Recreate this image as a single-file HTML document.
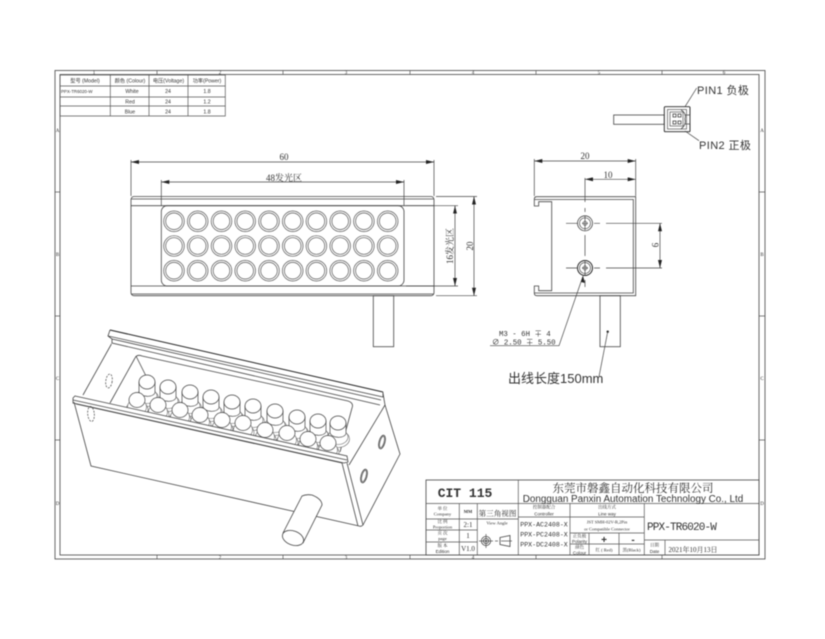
<!DOCTYPE html>
<html><head><meta charset="utf-8"><title>PPX-TR6020-W</title>
<style>
html,body{margin:0;padding:0;background:#fff;width:825px;height:639px;overflow:hidden}
svg{display:block;filter:blur(.4px)}
text{font-family:"Liberation Serif","Noto Serif CJK SC",serif;fill:#333}
.s{font-family:"Liberation Sans","Noto Sans CJK SC",sans-serif}
.l{fill:none;stroke:#444;stroke-width:.8}
.t{fill:none;stroke:#555;stroke-width:.7}
.d{fill:none;stroke:#444;stroke-width:.7}
.m{text-anchor:middle}
</style></head><body>
<svg width="825" height="639" viewBox="0 0 825 639" xmlns="http://www.w3.org/2000/svg">
<defs>
<marker id="a" viewBox="0 0 8 4" refX="8" refY="2" markerWidth="8" markerHeight="4" orient="auto-start-reverse" markerUnits="userSpaceOnUse"><path d="M0 0L8 2L0 4Z" fill="#222"/></marker>
<g id="c"><circle r="10.3" fill="#fff" stroke="#555" stroke-width=".7"/><circle r="8.3" fill="none" stroke="#555" stroke-width=".7"/></g>
<g id="p1"><ellipse cx="0" cy="16" rx="11.5" ry="8.5" fill="#fff" stroke="#666" stroke-width=".6"/><ellipse cx="0" cy="14" rx="10" ry="7.5" fill="#fff" stroke="#666" stroke-width=".6"/><path d="M-8 0V10C-6 15 5 16 8 11V0Z" fill="#fff" stroke="#444" stroke-width=".7"/><ellipse cx="0" cy="0" rx="8" ry="7" fill="#fff" stroke="#444" stroke-width=".7"/></g>
<g id="p2"><ellipse cx="0" cy="10" rx="11" ry="9" fill="#fff" stroke="#666" stroke-width=".6"/><ellipse cx="0" cy="7" rx="9.5" ry="8" fill="#fff" stroke="#666" stroke-width=".6"/><ellipse cx="0" cy="0" rx="8" ry="7.5" fill="#fff" stroke="#444" stroke-width=".7"/></g>
</defs>

<!-- frame -->
<rect x="55" y="70.5" width="710" height="488.5" class="l"/>
<rect x="60" y="74.5" width="699" height="480.5" class="l"/>
<path class="t" d="M157 70.5V74.5M283 70.5V74.5M410 70.5V74.5M536 70.5V74.5M662 70.5V74.5M157 555V559M283 555V559M410 555V559M536 555V559M662 555V559M55 192H60M55 316H60M55 440H60M759 192H765M759 316H765M759 440H765"/>
<g font-size="5">
<text x="94" y="74" class="m">1</text><text x="220" y="74" class="m">2</text><text x="346" y="74" class="m">3</text><text x="473" y="74" class="m">4</text><text x="599" y="74" class="m">5</text><text x="724" y="74" class="m">6</text>
<text x="220" y="559" class="m">2</text><text x="346" y="559" class="m">3</text><text x="473" y="559" class="m">4</text>
<text x="57.5" y="132" class="m">A</text><text x="57.5" y="256" class="m">B</text><text x="57.5" y="380" class="m">C</text><text x="57.5" y="505" class="m">D</text>
<text x="762" y="132" class="m">A</text><text x="762" y="256" class="m">B</text><text x="762" y="380" class="m">C</text><text x="762" y="505" class="m">D</text>
</g>

<!-- spec table -->
<path class="t" d="M60 75H225.3V116H60ZM60 86H225.3M60 97H225.3M60 106H225.3M110.3 75V116M149 75V116M188 75V116"/>
<g font-size="5.2">
<text class="s m" x="85" y="82.5">型号 (Model)</text><text class="s m" x="130" y="82.5">颜色 (Colour)</text><text class="s m" x="168.5" y="82.5">电压(Voltage)</text><text class="s m" x="207" y="82.5">功率(Power)</text>
<text class="s" x="61" y="93" font-size="4.4">PPX-TR6020-W</text><text class="s m" x="132" y="93">White</text><text class="s m" x="168" y="93">24</text><text class="s m" x="207" y="93">1.8</text>
<text class="s m" x="130" y="103.5">Red</text><text class="s m" x="168" y="103.5">24</text><text class="s m" x="207" y="103.5">1.2</text>
<text class="s m" x="130" y="113.5">Blue</text><text class="s m" x="168" y="113.5">24</text><text class="s m" x="207" y="113.5">1.8</text>
</g>

<!-- connector -->
<rect x="613.7" y="115" width="50.6" height="9.3" class="l"/>
<rect x="664.3" y="106.7" width="25.7" height="25" rx="1" fill="#fff" stroke="#222" stroke-width=".9"/>
<rect x="667.5" y="109.5" width="19" height="19.5" class="t"/>
<rect x="670" y="112" width="13" height="14" class="t"/>
<rect x="673" y="114" width="3" height="3" class="l"/><rect x="678" y="114" width="3" height="3" class="l"/><rect x="673" y="121" width="3" height="3" class="l"/><rect x="678" y="121" width="3" height="3" class="l"/>
<path class="l" d="M685 115H690V124H685M681 110C685 112 686 116 685 119C686 123 685 126 681 129"/>
<path class="d" d="M685 106.7L696.7 88M685 131L699 140.7"/>
<text x="697" y="94" font-size="11" class="s" letter-spacing=".4">PIN1 负极</text>
<text x="699" y="149" font-size="11" class="s" letter-spacing=".4">PIN2 正极</text>

<!-- front view -->
<rect x="131" y="196.5" width="303" height="99.2" rx="3" class="l"/>
<path class="l" d="M131 199H434M131 205.7H434M131 286H434M131 294H434"/>
<rect x="161.3" y="205.7" width="242.7" height="80.3" rx="6" class="l"/>
<rect x="373.3" y="295.7" width="20.4" height="51" class="l"/>
<g>
<use href="#c" x="174" y="221.3"/><use href="#c" x="197.7" y="221.3"/><use href="#c" x="221.5" y="221.3"/><use href="#c" x="245.2" y="221.3"/><use href="#c" x="269" y="221.3"/><use href="#c" x="292.7" y="221.3"/><use href="#c" x="316.4" y="221.3"/><use href="#c" x="340.2" y="221.3"/><use href="#c" x="363.9" y="221.3"/><use href="#c" x="387.7" y="221.3"/>
<use href="#c" x="174" y="246"/><use href="#c" x="197.7" y="246"/><use href="#c" x="221.5" y="246"/><use href="#c" x="245.2" y="246"/><use href="#c" x="269" y="246"/><use href="#c" x="292.7" y="246"/><use href="#c" x="316.4" y="246"/><use href="#c" x="340.2" y="246"/><use href="#c" x="363.9" y="246"/><use href="#c" x="387.7" y="246"/>
<use href="#c" x="174" y="270.7"/><use href="#c" x="197.7" y="270.7"/><use href="#c" x="221.5" y="270.7"/><use href="#c" x="245.2" y="270.7"/><use href="#c" x="269" y="270.7"/><use href="#c" x="292.7" y="270.7"/><use href="#c" x="316.4" y="270.7"/><use href="#c" x="340.2" y="270.7"/><use href="#c" x="363.9" y="270.7"/><use href="#c" x="387.7" y="270.7"/>
</g>
<path class="d" d="M131 160V196M434 160V196M161.3 180V206M404 180V206M406 205.7H458M406 286H458M436 196.5H477M436 295.7H477"/>
<path class="d" d="M131 162H434" marker-start="url(#a)" marker-end="url(#a)"/>
<path class="d" d="M161.3 182H404" marker-start="url(#a)" marker-end="url(#a)"/>
<path class="d" d="M455 205.7V286" marker-start="url(#a)" marker-end="url(#a)"/>
<path class="d" d="M474 196.5V295.7" marker-start="url(#a)" marker-end="url(#a)"/>
<text x="284" y="160" font-size="9" class="m">60</text>
<text x="284" y="181" font-size="9" class="m" fill="#333" stroke="#fff" stroke-width="0">48发光区</text>
<text transform="translate(453,246) rotate(-90)" font-size="9" class="m">16发光区</text>
<text transform="translate(473,246) rotate(-90)" font-size="9" class="m">20</text>

<!-- side view -->
<path class="l" d="M534.3 206V199Q534.3 196.7 537 196.7H635.7V295.7H537Q534.3 295.7 534.3 293V286H538.7V290.7H551.7V201.7H538.7V206Z"/>
<path class="l" d="M534.3 199.5H633.3V293H534.3"/>
<circle cx="585" cy="223.3" r="7.5" class="l"/><circle cx="585" cy="223.3" r="5.5" class="t"/><circle cx="585" cy="223.3" r="2" class="t"/>
<circle cx="585" cy="268" r="7.5" stroke="#222" stroke-width="1" fill="none"/><circle cx="585" cy="268" r="5.5" class="t"/><circle cx="585" cy="268" r="2" class="t"/>
<path class="d" d="M585 178V202M585 208V212M585 216V230M585 235V256M585 260V276M585 280V287M566 223.3H578M582 223.3H588M594 223.3H600M606 223.3H662M566 268H578M582 268H588M594 268H600M606 268H662M534.3 159V196M635.7 159V196"/>
<rect x="600" y="295.7" width="20.3" height="51" class="l"/>
<path class="d" d="M534.3 161H635.7" marker-start="url(#a)" marker-end="url(#a)"/>
<path class="d" d="M585 179.3H635.7" marker-start="url(#a)" marker-end="url(#a)"/>
<path class="d" d="M660 223.3V268" marker-start="url(#a)" marker-end="url(#a)"/>
<text x="585" y="159" font-size="9" class="m">20</text>
<text x="608" y="178" font-size="9" class="m">10</text>
<text transform="translate(652,245) rotate(90)" font-size="9" class="m">9</text>
<path class="d" d="M583 276L559 345.7H490"/>
<path d="M583 276L581 282L585 283Z" fill="#222"/>
<text x="499" y="336" font-size="7.4" style="font-family:'Liberation Mono','Noto Sans CJK SC',monospace">M3 - 6H ∓ 4</text>
<text x="492" y="344.5" font-size="7.4" style="font-family:'Liberation Mono','Noto Sans CJK SC',monospace">∅ 2.50 ∓ 5.50</text>
<circle cx="607.7" cy="331.7" r="1.2" fill="#222"/>
<path class="d" d="M607.7 331.7L599 376.7"/>
<text x="508" y="383" font-size="13" class="s">出线长度150mm</text>

<!-- isometric view -->
<polygon points="110,338 383,398 349,465 83,400" fill="#fff" stroke="none"/>
<path class="l" d="M112 343L83 395M135 358L110 403"/>
<ellipse cx="109" cy="381" rx="3.2" ry="7" class="d" stroke-dasharray="2 1.2" transform="rotate(8 109 381)"/>
<path class="l" d="M135 358Q137 354 142 356L348 401Q354 403 352 408L340 452"/>
<path class="l" d="M136 356L148 380"/>
<g>
<use href="#p1" x="147" y="382"/><use href="#p1" x="168" y="387"/><use href="#p1" x="190" y="392"/><use href="#p1" x="211" y="397"/><use href="#p1" x="232" y="402"/><use href="#p1" x="253" y="406"/><use href="#p1" x="275" y="411"/><use href="#p1" x="297" y="417"/><use href="#p1" x="318" y="421"/><use href="#p1" x="338" y="423"/>
<use href="#p2" x="137" y="400"/><use href="#p2" x="158" y="405"/><use href="#p2" x="180" y="410"/><use href="#p2" x="200" y="415"/><use href="#p2" x="222" y="420"/><use href="#p2" x="243" y="423"/><use href="#p2" x="265" y="430"/><use href="#p2" x="287" y="433"/><use href="#p2" x="308" y="439"/><use href="#p2" x="328" y="443"/>
</g>
<!-- back rail -->
<polygon points="110,330 383,392 384,398 380,405 112,345 108,336" fill="#fff" stroke="none"/>
<path d="M110 330L383 392" fill="none" stroke="#222" stroke-width="1"/>
<path class="l" d="M110 330L108 336L383 397L383 392M108 336L112 339L381 400M112 339L112 343L380 405"/>
<!-- front face & rail -->
<polygon points="73,400 347,460 385,405 383,393 400,454 362,526 359,526 91,466" fill="#fff" stroke="none"/>
<polygon points="75,396 347,456 348,463 358,526 91,466 73,401" fill="#fff" stroke="none"/>
<path class="l" d="M75 396L347 456L348 462L344 463L73 403L73 398Z"/>
<path class="l" d="M73 400L347 460M76 404L342 463"/>
<path class="l" d="M74 402L91 466L359 526Q361 527 363 525L347 463M342 463L358 526"/>
<ellipse cx="91" cy="414" rx="3.3" ry="7.5" class="d" stroke-dasharray="2 1.2" transform="rotate(-5 91 414)"/>
<!-- end face -->
<path class="l" d="M349 465L385 405L383 393M385 405L400 454L363 525"/>
<ellipse cx="382" cy="442" rx="3" ry="7" class="l" transform="rotate(15 382 442)"/>
<ellipse cx="382" cy="442" rx="2" ry="5.8" class="t" transform="rotate(15 382 442)"/>
<ellipse cx="364" cy="476" rx="3" ry="7" class="l" transform="rotate(15 364 476)"/>
<ellipse cx="364" cy="476" rx="2" ry="5.8" class="t" transform="rotate(15 364 476)"/>
<!-- wire -->
<path d="M283 533L302 496Q306 494 312 495Q322 499 322 505L303 543Z" fill="#fff" stroke="#444" stroke-width=".8"/>
<ellipse cx="293" cy="538" rx="11" ry="7" fill="#fff" stroke="#444" stroke-width=".8" transform="rotate(20 293 538)"/>

<!-- title block -->
<rect x="426" y="480" width="333" height="75" fill="#fff" stroke="#444" stroke-width=".8"/>
<path class="t" d="M426 503.5H759M518.3 480V555M426 519H518.3M426 530H477.3M426 542H477.3M459.3 503.5V555M477.3 503.5V555M570 503.5V555M518.3 517H644.3M644.3 503.5V555M570 533H644.3M570 544H644.3M589 533V555M619 533V555M644.3 540H759M665 540V555"/>
<text x="465" y="497" font-size="13" class="m" style="font-family:'Liberation Mono',monospace;font-weight:700">CIT 115</text>
<text x="633" y="492" font-size="11.5" class="m">东莞市磐鑫自动化科技有限公司</text>
<text x="633" y="502" font-size="9.9" class="s m">Dongguan Panxin Automation Technology Co., Ltd</text>
<g font-size="4.5">
<text class="m" x="442.5" y="510">单 位</text><text class="m" x="442.5" y="515.5">Company</text>
<text class="m" x="442.5" y="523">比 例</text><text class="m" x="442.5" y="528.5">Proportion</text>
<text class="m" x="442.5" y="534.5">页 次</text><text class="m" x="442.5" y="540">page</text>
<text class="m" x="442.5" y="547">版 本</text><text class="m s" x="442.5" y="553">Edition</text>
<text class="m" x="468" y="513" font-weight="700">MM</text>
<text class="m" x="544" y="508.5">控制器配合</text><text class="m s" x="544" y="515.5">Controller</text>
<text class="m" x="607" y="508.5">出线方式</text><text class="m s" x="607" y="515.5">Line way</text>
<text class="m" x="607" y="523.5">JST SMH-02V-B,2Pin</text><text class="m" x="607" y="530.5">or Compatible Connector</text>
<text class="m" x="579.5" y="537.5">正负极</text><text class="m s" x="579.5" y="543">Polarity</text>
<text class="m" x="579.5" y="548.5">颜色</text><text class="m s" x="579.5" y="554.5">Colour</text>
<text class="m" x="654.5" y="546.5">日期</text><text class="m s" x="654.5" y="553">Date</text>
<text class="m" x="604" y="551.5">红 ( Red)</text><text class="m" x="631.5" y="551.5">黑(Black)</text>
<text class="m" x="497" y="524.5">View Angle</text>
</g>
<g font-size="7">
<text class="m" x="468" y="527">2:1</text><text class="m" x="468" y="538">1</text><text class="m" x="468" y="551">V1.0</text>
<text class="m" x="544" y="526.5" style="font-family:'Liberation Mono',monospace" font-size="6.6">PPX-AC2408-X</text>
<text class="m" x="544" y="536.5" style="font-family:'Liberation Mono',monospace" font-size="6.6">PPX-PC2408-X</text>
<text class="m" x="544" y="546.5" style="font-family:'Liberation Mono',monospace" font-size="6.6">PPX-DC2408-X</text>
<text class="m" x="693" y="552" font-size="7">2021年10月13日</text>
</g>
<text class="m" x="497.5" y="516" font-size="7.6">第三角视图</text>
<text class="m s" x="604" y="543" font-size="10" font-weight="700">+</text>
<text class="m s" x="633" y="543" font-size="10" font-weight="700">-</text>
<text x="647" y="530" font-size="11" style="font-family:'Liberation Mono',monospace" letter-spacing="-.85">PPX-TR6020-W</text>
<circle cx="486" cy="541" r="4.6" class="l"/><circle cx="486" cy="541" r="2.6" class="l"/><circle cx="486" cy="541" r="1" fill="#333"/>
<path class="t" d="M479 541H493M486 534V548M495 541H498M501 541H512"/>
<path class="l" d="M500 537.5L510 535.5V546.5L500 544.5Z"/>
</svg>
</body></html>
